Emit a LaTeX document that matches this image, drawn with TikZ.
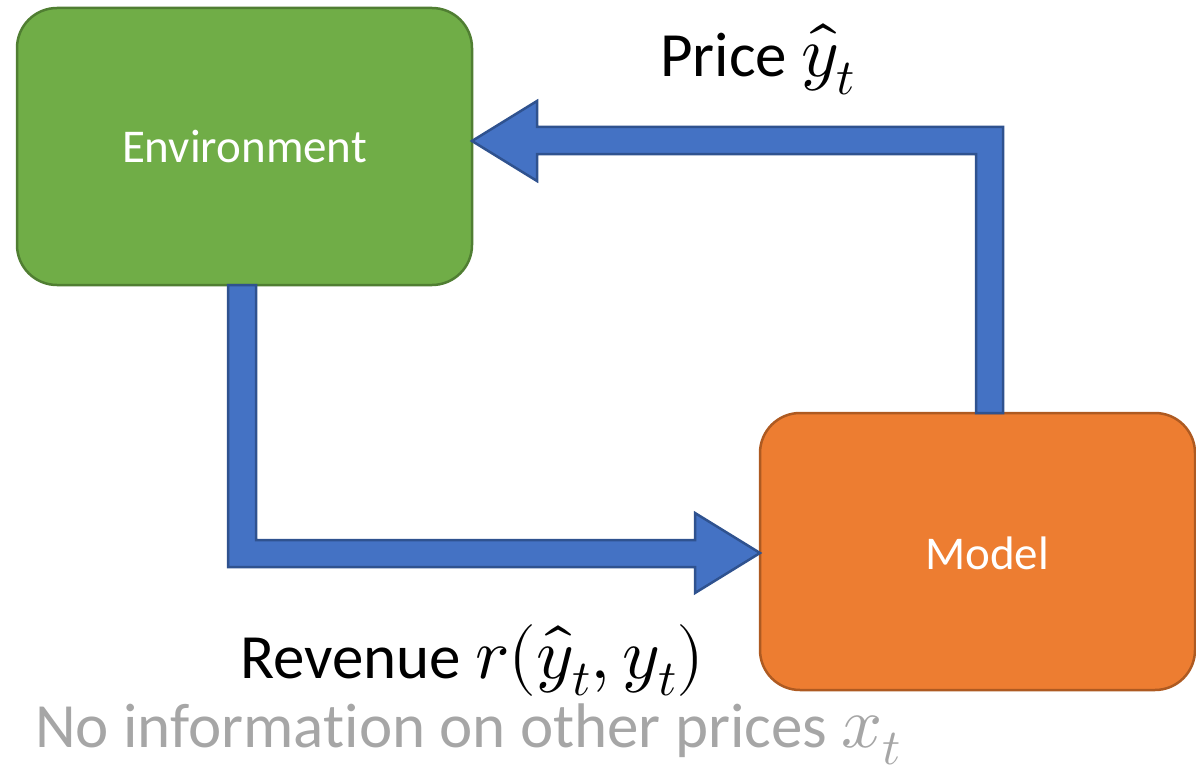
\documentclass[tikz,border=0pt]{standalone}
\usepackage{fontspec}
\usepackage{unicode-math}
\setmainfont{Carlito}[Ligatures=NoCommon]
\setmathfont{Latin Modern Math}
\usetikzlibrary{calc}
\definecolor{envfill}{HTML}{70AD47}
\definecolor{envline}{HTML}{507E32}
\definecolor{modfill}{HTML}{ED7D31}
\definecolor{modline}{HTML}{AE5A21}
\definecolor{arrfill}{HTML}{4472C4}
\definecolor{arrline}{HTML}{2F528F}
\definecolor{notegray}{HTML}{A6A6A6}
\newcommand{\mylblmath}[1]{{\fontsize{72}{80}\selectfont$#1$}}
\tikzset{
  box/.style={rounded corners=40pt, line width=2.5pt, inner sep=0pt,
    text=white, font=\fontsize{47}{56}\selectfont},
  blockarrow/.style={fill=arrfill, draw=arrline, line width=2.5pt, line join=miter},
  lbl/.style={font=\fontsize{63}{72}\selectfont, inner sep=0pt},
}
\begin{document}
\begin{tikzpicture}[x=1pt,y=-1pt]
\useasboundingbox (0,0) rectangle (1196,765);
\node[box, fill=envfill, draw=envline, minimum width=455pt, minimum height=277pt]
  (env) at (244.5,146.5) {Environment};
\node[box, fill=modfill, draw=modline, minimum width=435pt, minimum height=277pt]
  (model) at (977.5,551.5) {};
\node[text=white, font=\fontsize{47}{56}\selectfont, inner sep=0pt] (modeltext) at (987,553) {Model};
% top arrow: model -> environment
\coordinate (tipL) at (472,141);
\coordinate (startT) at (989.5,413);
\draw[blockarrow] ($(startT)+(13.5,0)$) -- (1003,127) -- (537,127) -- (537,101)
  -- (tipL) -- (537,181) -- (537,154) -- (976,154) -- ($(startT)+(-13.5,0)$) -- cycle;
% bottom arrow: environment -> model
\coordinate (startB) at (242,285);
\coordinate (tipR) at (760,553);
\draw[blockarrow] ($(startB)+(-14,0)$) -- (228,567) -- (695,567) -- (695,593)
  -- (tipR) -- (695,513) -- (695,540) -- (256,540) -- ($(startB)+(14,0)$) -- cycle;
\node[lbl, anchor=base west] (price) at (660,77) {Price \mylblmath{\hat{y}_t}};
\node[lbl, anchor=base west] (rev) at (240,678) {Revenue \mylblmath{r(\hat{y}_t, y_t)}};
\node[lbl, anchor=base west, text=notegray] (note) at (35,747) {No information on other prices \mylblmath{x_t}};
\end{tikzpicture}
\end{document}
